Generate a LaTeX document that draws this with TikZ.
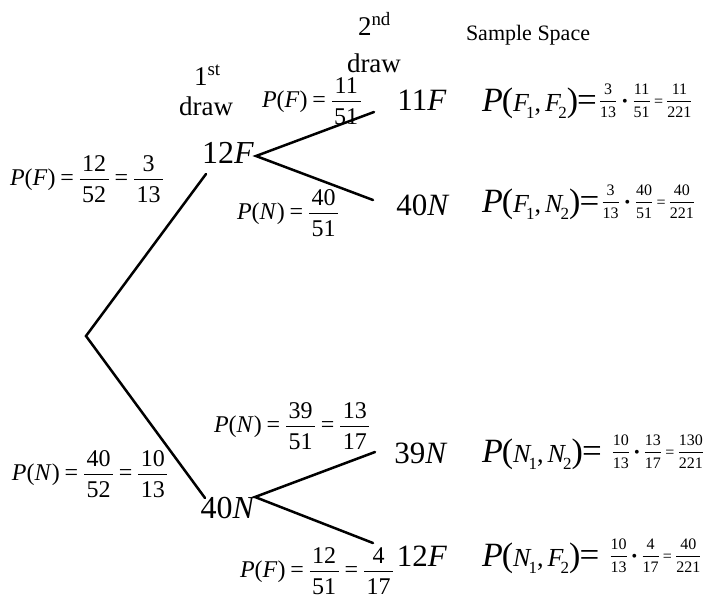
\documentclass[tikz,border=0pt]{standalone}
\usepackage{amsmath}
\usepackage{fontspec}
\setmainfont{Liberation Serif}
\newcommand\fr[2]{$\dfrac{\mbox{\hspace{0.1em}\raisebox{-3pt}{#1}\hspace{0.1em}}}{\mbox{\hspace{0.1em}#2\hspace{0.1em}}}$}
\newcommand\sfr[2]{$\dfrac{\mbox{#1}}{\mbox{#2}}$}
\newcommand\eqs{\hspace{0.2em}=\hspace{0.2em}}
\newcommand\sz[1]{\fontsize{#1}{#1}\selectfont}
\newcommand\sbb[1]{\raisebox{-7pt}{\sz{17}#1}}
\newcommand\jt[3]{{\sz{34}\textit{P}}\hspace{-1pt}{\sz{34}(}{\sz{26}\textit{#1}}\hspace{-3pt}\sbb{1}{\sz{26},}\hspace{4pt}{\sz{26}\textit{#2}}\hspace{-3pt}\sbb{2}{\sz{34})}\hspace{-1pt}{\sz{35}=}#3}
\tikzset{
  txt/.style={inner sep=0pt, outer sep=0pt},
  branch/.style={line width=2.5pt, line cap=round, line join=miter},
  prob/.style={txt, anchor=west, font=\sz{24}},
  outA/.style={txt, anchor=base, font=\sz{32}},
  outB/.style={txt, anchor=base, font=\sz{31}},
  joint/.style={txt, anchor=base west},
  head/.style={txt, font=\sz{27}},
}
\begin{document}
\begin{tikzpicture}[x=1pt,y=-1pt]
\useasboundingbox (0,0) rectangle (703,598);
% headings
\node[head, anchor=base west] (h1) at (194,85) {1\textsuperscript{st}};
\node[head, anchor=base east] (h1d) at (233,115) {draw};
\node[head, anchor=base west] (h2) at (358,35) {2\textsuperscript{nd}};
\node[head, anchor=base west] (h2d) at (347,72) {draw};
\node[txt, anchor=base west, font=\sz{22}] (ss) at (466,40) {Sample Space};
% branch points
\coordinate (r) at (86,336);
\coordinate (a1) at (206,174);
\coordinate (a2) at (256,156);
\coordinate (a3) at (374,112);
\coordinate (a4) at (373,200);
\coordinate (b1) at (205,498);
\coordinate (b2) at (255,497);
\coordinate (b3) at (375,452);
\coordinate (b4) at (373,543);
% outcomes
\node[outA] (f1) at (228,163) {12\textit{F}};
\node[outA] (n1) at (228,518) {40\textit{N}};
\node[outB] (ff) at (422,110) {11\textit{F}};
\node[outB] (fn) at (423,215) {40\textit{N}};
\node[outB] (nn) at (421,463) {39\textit{N}};
\node[outB] (nf) at (422,566) {12\textit{F}};
% probabilities
\node[prob] (pf1) at (10,179.5) {\textit{P}(\textit{F})\eqs\fr{12}{52}\eqs\fr{3}{13}};
\node[prob] (pn1) at (12,474.5) {\textit{P}(\textit{N})\eqs\fr{40}{52}\eqs\fr{10}{13}};
\node[prob] (pff) at (262,101.5) {\textit{P}(\textit{F})\eqs\fr{11}{51}};
\node[prob] (pfn) at (237,213.5) {\textit{P}(\textit{N})\eqs\fr{40}{51}};
\node[prob] (pnn) at (214,426.5) {\textit{P}(\textit{N})\eqs\fr{39}{51}\eqs\fr{13}{17}};
\node[prob] (pnf) at (240,571) {\textit{P}(\textit{F})\eqs\fr{12}{51}\eqs\fr{4}{17}};
% joint probabilities
\node[joint] (jff) at (482,111) {\jt{F}{F}{\raisebox{5pt}{\sz{16}\hspace{2pt}\sfr{3}{13}\hspace{0.3em}\textbullet\hspace{0.3em}\sfr{11}{51}\hspace{0.2em}=\hspace{0.2em}\sfr{11}{221}}}};
\node[joint] (jfn) at (482,212) {\jt{F}{N}{\raisebox{5pt}{\sz{16}\hspace{2pt}\sfr{3}{13}\hspace{0.3em}\textbullet\hspace{0.3em}\sfr{40}{51}\hspace{0.2em}=\hspace{0.2em}\sfr{40}{221}}}};
\node[joint] (jnn) at (482,462) {\jt{N}{N}{\raisebox{5pt}{\sz{16}\hspace{10pt}\sfr{10}{13}\hspace{0.25em}\textbullet\hspace{0.25em}\sfr{13}{17}\hspace{0.2em}=\hspace{0.2em}\sfr{130}{221}}}};
\node[joint] (jnf) at (482,566) {\jt{N}{F}{\raisebox{5pt}{\sz{16}\hspace{10pt}\sfr{10}{13}\hspace{0.25em}\textbullet\hspace{0.25em}\sfr{4}{17}\hspace{0.2em}=\hspace{0.2em}\sfr{40}{221}}}};
% branches
\draw[branch] (a1) -- (r) -- (b1);
\draw[branch] (a3) -- (a2) -- (a4);
\draw[branch] (b3) -- (b2) -- (b4);
\end{tikzpicture}
\end{document}
